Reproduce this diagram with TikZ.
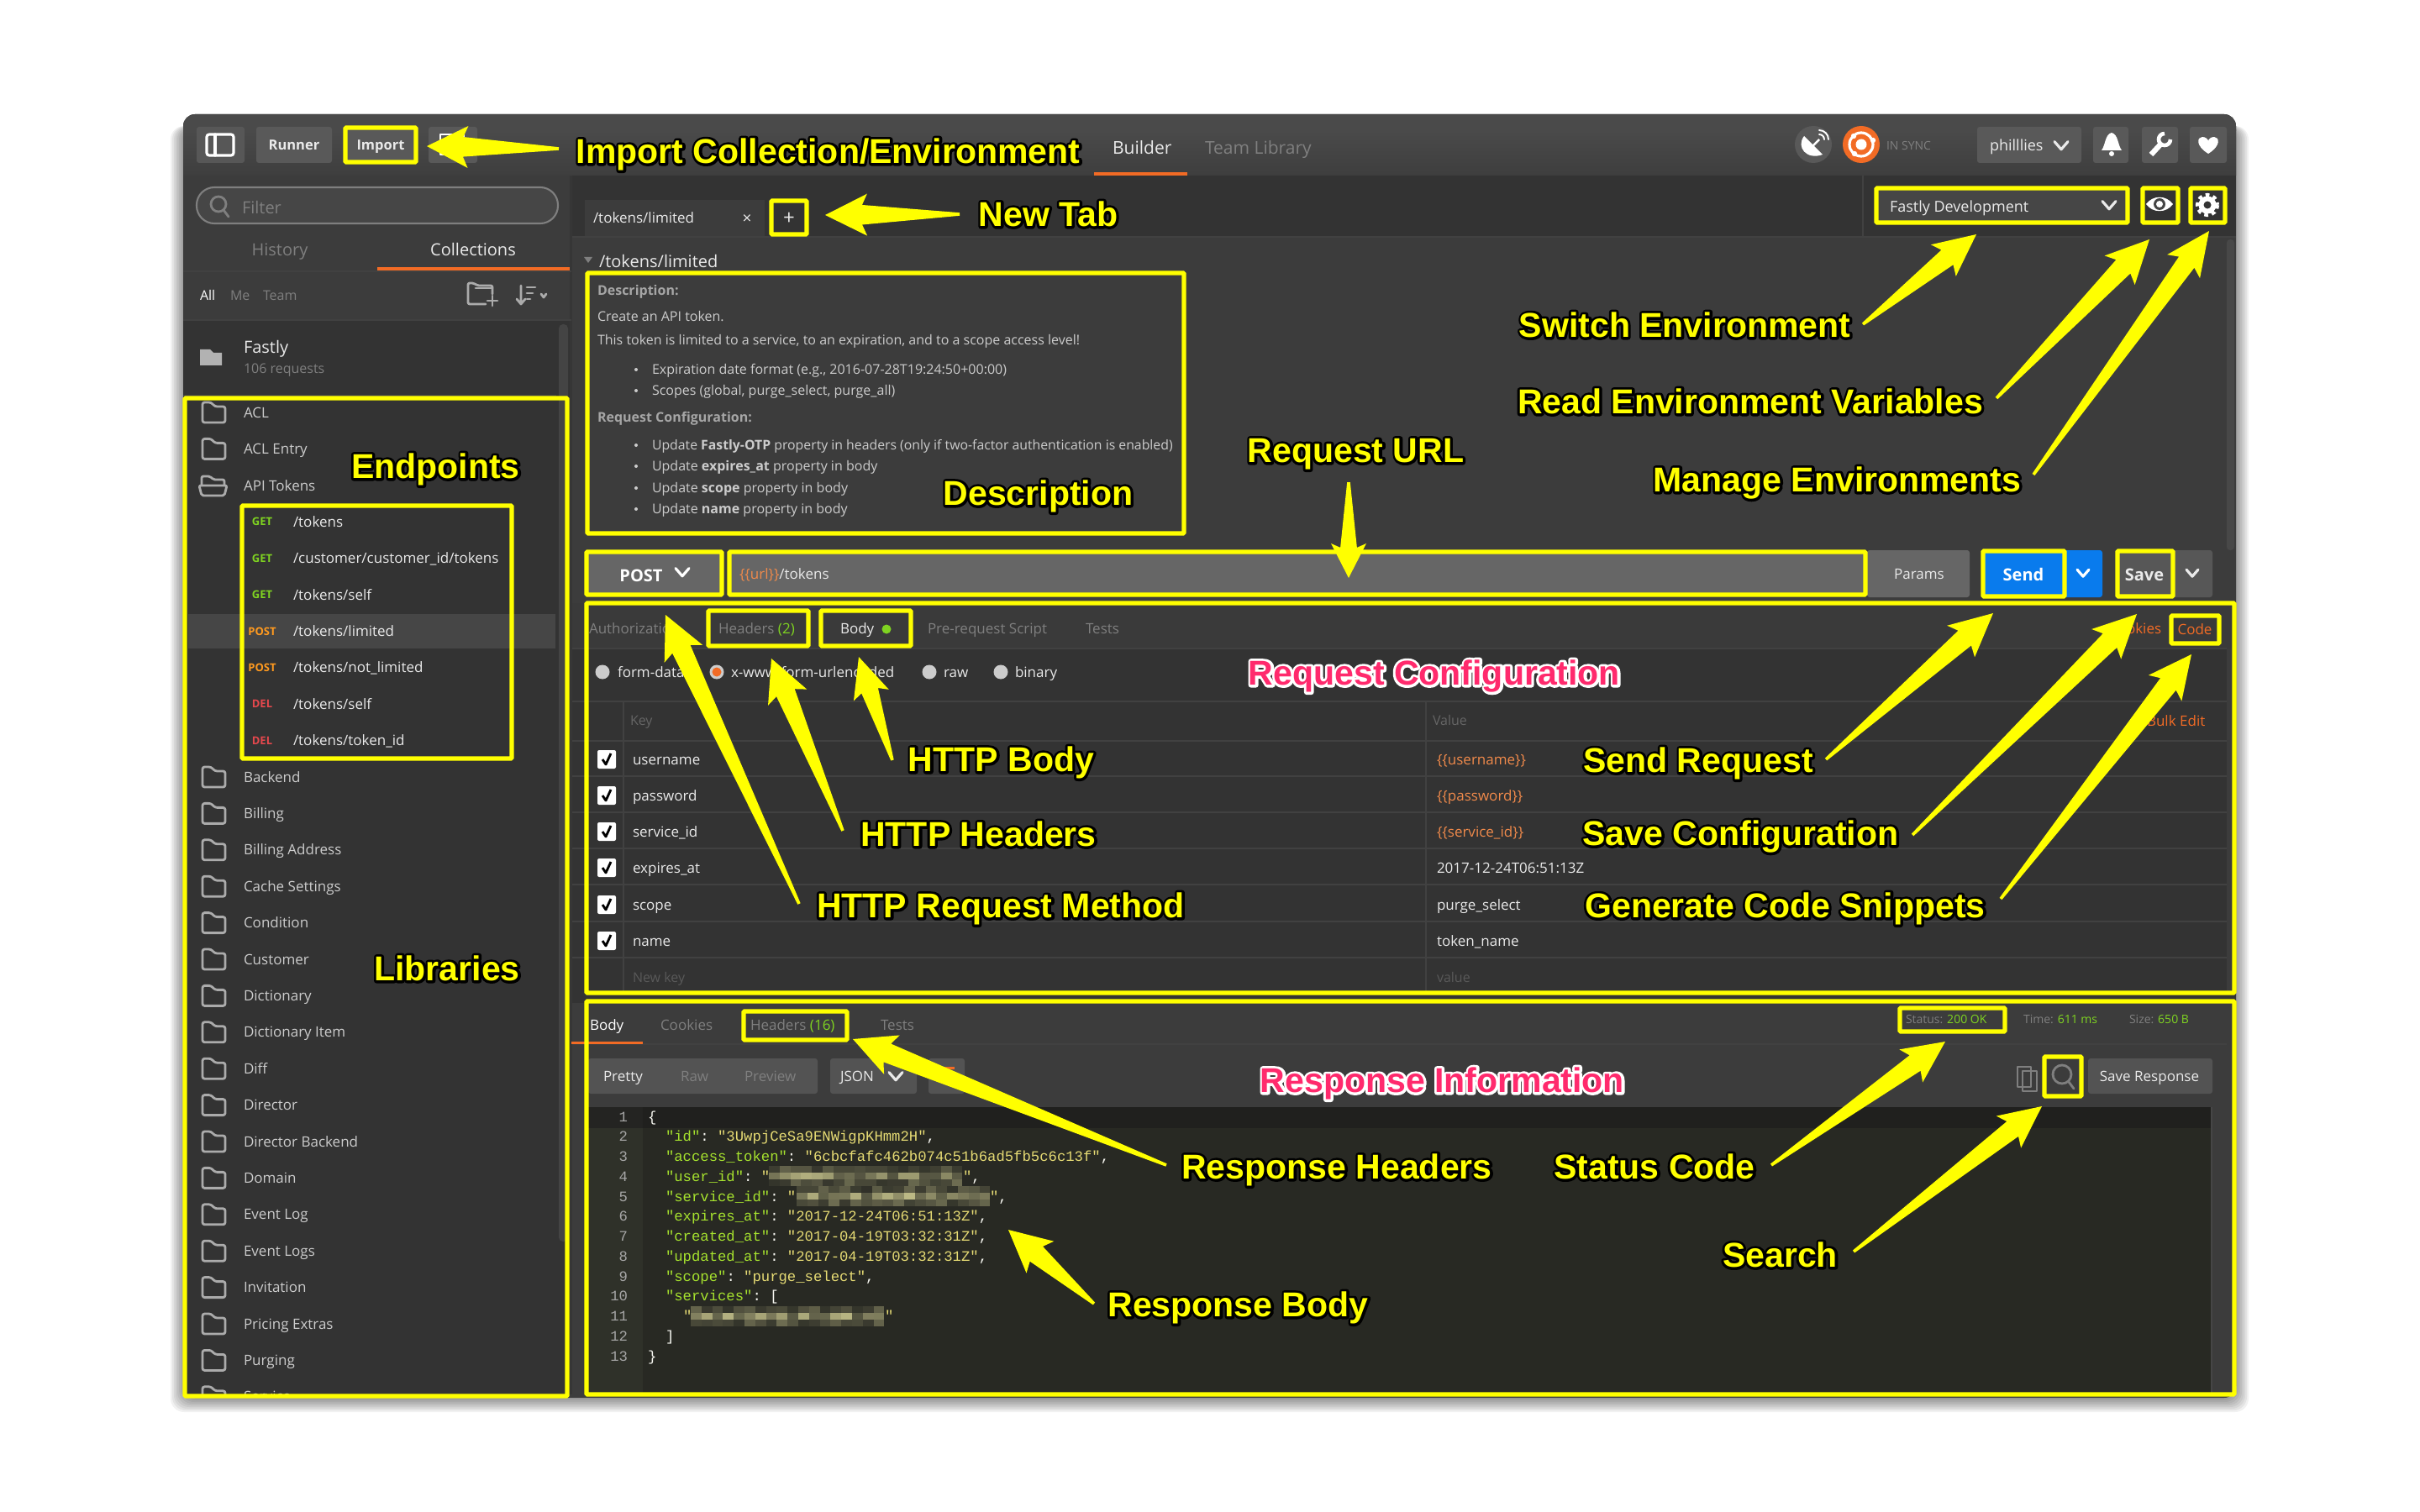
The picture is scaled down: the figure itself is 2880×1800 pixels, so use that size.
\documentclass[tikz,border=0pt]{standalone}
\usepackage{fontspec}
\usepackage{xcolor}
\usetikzlibrary{calc}
\setmainfont{Open Sans}
\setmonofont{Liberation Mono}
\newfontface\annofill{Liberation Sans Bold}
\newfontface\annostroke{Liberation Sans Bold}[FakeBold=15]
\newcommand{\fs}[1]{\fontsize{\fpeval{#1*0.2845}pt}{\fpeval{#1*0.34}pt}\selectfont}
\def\sl{/}
\definecolor{yy}{HTML}{FFFF00}
\definecolor{win}{HTML}{3C3C3C}
\definecolor{dk}{HTML}{333333}
\definecolor{ln}{HTML}{414141}
\definecolor{btn}{HTML}{595959}
\definecolor{inp}{HTML}{666666}
\definecolor{wt}{HTML}{EAEAEA}
\definecolor{gr}{HTML}{7F7F7F}
\definecolor{org}{HTML}{F26B25}
\definecolor{grn}{HTML}{7FD321}
\definecolor{red1}{HTML}{E5484D}
\definecolor{ora}{HTML}{FF9A1F}
\definecolor{var}{HTML}{F08A4B}
\definecolor{pk}{HTML}{FF2A6D}
\definecolor{edbg}{HTML}{282923}
\definecolor{gut}{HTML}{2F3129}
\definecolor{kw}{HTML}{A6E22E}
\definecolor{st}{HTML}{E6DB74}
\definecolor{pn}{HTML}{F8F8F2}
\definecolor{blr}{HTML}{D8D498}
\definecolor{ca}{HTML}{4A4A4A}
\definecolor{cb}{HTML}{3E3E3E}
\definecolor{cc}{HTML}{464646}
\definecolor{cd}{HTML}{444444}
\definecolor{ce}{HTML}{484848}
\definecolor{cf}{HTML}{3A3A3A}
\definecolor{blu}{HTML}{097BED}
\definecolor{cg}{HTML}{20201E}
\definecolor{ch}{HTML}{242422}
\definecolor{fo}{HTML}{ABABAB}
\tikzset{
  x=0.01cm,y=-0.01cm,
  yb/.style={draw=yy,line width=1.45pt,rounded corners=0.01cm},
  dv/.style={draw=ln,line width=0.6pt},
  ic/.style={draw=#1,line width=0.8pt,line join=round,line cap=round},
  lb/.style={inner sep=0pt,outer sep=0pt},
}
\newcount\nc
\newcommand{\T}[5]{\global\advance\nc by 1\relax
  \node[lb,anchor=base west,text=#4,name=t\the\nc] at ({#1},{#2+0.36*#3}) {\fs{#3}#5};}
\newcommand{\TC}[5]{\global\advance\nc by 1\relax
  \node[lb,anchor=base,text=#4,name=t\the\nc] at ({#1},{#2+0.36*#3}) {\fs{#3}#5};}
\newcommand{\chev}[4]{\draw[ic=#4,line width=0.9pt] ({#1-#3},{#2-0.55*#3}) -- ({#1},{#2+0.6*#3}) -- ({#1+#3},{#2-0.55*#3});}
\newcommand{\anno}[7]{% name, left, right, y, text, fill, stroke
  \node[lb,anchor=base,name=#1,line join=round,miter limit=1] at ({(#2+#3)/2},{#4+14.5}) {\fs{41}\special{pdf:code 1 j 1 J}\rlap{\annostroke\textcolor{#7}{#5}}\annofill\textcolor{#6}{#5}};}
\newcommand{\yarrow}[4]{%
  \coordinate (B) at ($(#2)!#3*0.01cm!(#1)$);
  \coordinate (N) at ($(#2)!#3*0.0088cm!(#1)$);
  \fill[yy] ($(#1)!0.018cm!90:(#2)$) -- ($(N)!#4*0.0047cm!90:(#2)$) -- ($(B)!#4*0.01cm!90:(#2)$) -- (#2)
    -- ($(B)!#4*0.01cm!-90:(#2)$) -- ($(N)!#4*0.0047cm!-90:(#2)$) -- ($(#1)!0.018cm!-90:(#2)$) -- cycle;}
\begin{document}
\begin{tikzpicture}
\useasboundingbox (0,0) rectangle (2880,1800);
\fill[white] (0,0) rectangle (2880,1800);
% soft shadow
\foreach \e in {1,3,...,15}{
  \fill[black,opacity=0.055,rounded corners=0.16cm] ({218-\e},{150}) rectangle ({2661+\e},{1664+\e+2});
}
% window
\fill[win,rounded corners=0.14cm] (218,136) rectangle (2661,1664);
\fill[ca,rounded corners=0.14cm] (218,136) rectangle (2661,170);
\shade[top color=ca,bottom color=cb] (218,155) rectangle (2661,209);
% title bar buttons
\fill[inp!110!white,rounded corners=0.03cm] (234,151) rectangle (291,194);
\draw[ic=white,rounded corners=0.03cm,line width=0.9pt] (246,160) rectangle (278,185);
\draw[ic=white,line width=0.9pt] (256,160) -- (256,185);
\fill[btn,rounded corners=0.03cm] (305,151) rectangle (395,194);
\TC{350}{173}{16.5}{wt}{\bfseries Runner}
\fill[btn,rounded corners=0.03cm] (411,151) rectangle (495,194);
\TC{453}{173}{16.5}{wt}{\bfseries Import}
\fill[btn,rounded corners=0.03cm] (510,151) rectangle (568,194);
\draw[ic=white] (524,160) rectangle (552,184);
\T{1324}{176}{21}{wt}{Builder}
\fill[org] (1302,205) rectangle (1413,209);
\T{1434}{176}{21}{gr}{Team Library}
\fill[btn] (2158,172) circle [radius=22];
\fill[white] (2147,162) .. controls (2137,175) and (2150,191) .. (2169,184) -- cycle;
\draw[white,line width=0.7pt] (2156,175) -- (2165,166);
\draw[ic=white,line width=0.55pt] (2165,160) arc (-90:0:6);
\draw[ic=white,line width=0.55pt] (2165,155) arc (-90:0:11);
\fill[org] (2215,172) circle [radius=22];
\draw[white,line width=0.9pt] (2215,172) circle [radius=14];
\fill[white] (2215,172) circle [radius=6.5];
\fill[white] (2229,167) circle [radius=3.2];
\fill[white] (2207,183) circle [radius=3.2];
\fill[white] (2206,162) circle [radius=3.2];
\T{2245}{173}{14}{gr}{IN SYNC}
\fill[btn,rounded corners=0.03cm] (2353,151) rectangle (2477,194);
\T{2368}{173}{18}{wt}{philllies}
\chev{2453}{173}{8}{wt}
\fill[btn,rounded corners=0.03cm] (2491,151) rectangle (2533,194);
\fill[white] (2513,158) .. controls (2505,160) and (2506,172) .. (2501,179) -- (2525,179) .. controls (2520,172) and (2521,160) .. (2513,158) -- cycle;
\fill[white] (2513,183) circle [radius=3];
\fill[btn,rounded corners=0.03cm] (2549,151) rectangle (2592,194);
\draw[white,line width=1.8pt] (2560,184) -- (2572,171);
\draw[white,line width=1.3pt] (2583,166) arc (0:270:7);
\fill[btn,rounded corners=0.03cm] (2606,151) rectangle (2650,194);
\fill[white] (2628,183) .. controls (2612,173) and (2615,163) .. (2621,163) .. controls (2625,163) and (2628,166) .. (2628,168) .. controls (2628,166) and (2631,163) .. (2635,163) .. controls (2641,163) and (2644,173) .. (2628,183) -- cycle;
% sidebar
\fill[win] (218,209) rectangle (680,382);
\fill[dk] (218,382) rectangle (680,1660);
\fill[win!90!black] (678,209) rectangle (681,1660);
\fill[cc,rounded corners=0.21cm,draw=gr,line width=0.6pt] (234,223) rectangle (664,266);
\draw[ic=gr] (260,243) circle [radius=9];
\draw[ic=gr] (266,250) -- (272,258);
\T{288}{247}{20}{gr}{Filter}
\TC{333}{297}{20}{gr}{History}
\TC{563}{297}{20}{wt}{Collections}
\fill[org] (449,318) rectangle (678,322);
\draw[dv] (218,323) -- (680,323);
\T{238}{352}{16}{white}{All}
\T{274}{352}{16}{gr}{Me}
\T{313}{352}{16}{gr}{Team}
\draw[ic=fo,rounded corners=0.02cm] (586,350) -- (586,340) -- (568,340) -- (564,337) -- (557,337) -- (557,362) -- (578,362);
\draw[ic=fo] (566,343) -- (586,343);
\draw[ic=fo] (586,352) -- (586,364) (580,358) -- (592,358);
\draw[ic=fo] (620,340) -- (620,362) (615,356) -- (620,362) -- (625,356);
\draw[ic=fo] (627,342) -- (637,342) (627,349) -- (634,349) (627,356) -- (631,356);
\draw[ic=fo] (644,350) -- (647,354) -- (650,350);
\draw[dv] (218,381) -- (680,381);
\fill[gray!60!white] (238,416) -- (250,416) -- (254,420) -- (264,420) -- (264,435) -- (238,435) -- cycle;
\T{290}{413}{20}{wt}{Fastly}
\T{290}{439}{16}{gr}{106 requests}
\draw[dv] (218,471) -- (662,471);
\fill[cd,rounded corners=0.05cm] (665,386) rectangle (676,1478);
\fill[cc] (224,731) rectangle (661,772);
\begin{scope}
\clip (218,472) rectangle (680,1660);
\foreach \i/\t in {0/ACL,1/ACL Entry,11/Backend,12/Billing,13/Billing Address,14/Cache Settings,15/Condition,16/Customer,17/Dictionary,18/Dictionary Item,19/Diff,20/Director,21/Director Backend,22/Domain,23/Event Log,24/Event Logs,25/Invitation,26/Pricing Extras,27/Purging,28/Service}{
  \pgfmathsetmacro\fy{491+43.4*(\i<3?\i:\i-1)}
  \T{290}{\fy}{17}{gray!40!white}{\t}
  \draw[ic=fo,rounded corners=0.025cm] (241,{\fy+12}) -- (241,{\fy-12}) -- (251,{\fy-12}) -- (256,{\fy-7}) -- (268,{\fy-7}) -- (268,{\fy+12}) -- cycle;
}
\T{290}{578}{17}{gray!40!white}{API Tokens}
\draw[ic=fo,rounded corners=0.02cm] (240,578) -- (240,567) -- (250,567) -- (254,571) -- (267,571) -- (267,578);
\draw[ic=fo,rounded corners=0.02cm] (237,578) -- (270,578) -- (267,590) -- (240,590) -- cycle;
\end{scope}
\foreach \i/\m/\c/\p in {3/GET/grn/\sl tokens,4/GET/grn/\sl customer\sl customer\_id\sl tokens,5/GET/grn/\sl tokens\sl self,6/POST/ora/\sl tokens\sl limited,7/POST/ora/\sl tokens\sl not\_limited,8/DEL/red1/\sl tokens\sl self,9/DEL/red1/\sl tokens\sl token\_id}{
  \pgfmathsetmacro\fy{491+43.4*\i}
  \TC{312}{\fy}{13}{\c}{\bfseries \m}
  \T{349}{\fy}{17}{wt}{\p}
}
% tab bar
\fill[dk] (681,209) rectangle (2661,281);
\draw[dv] (2217,209) -- (2217,281);
\fill[win] (696,238) rectangle (910,282);
\draw[dv] (681,282) -- (2661,282);
\T{706}{259}{17}{wt}{/tokens/limited}
\TC{889}{260}{19}{wt}{×}
\TC{939}{259}{24}{wt}{+}
\fill[cc] (2233,224) rectangle (2532,265);
\T{2249}{246}{18}{wt}{Fastly Development}
\chev{2510}{244}{8}{wt}
\fill[white] (2554,243) .. controls (2562,232) and (2578,232) .. (2586,243) .. controls (2578,254) and (2562,254) .. (2554,243) -- cycle;
\fill[cd] (2570,243) circle [radius=7];
\fill[white] (2570,243) circle [radius=4];
\draw[white,line width=1.5pt,dash pattern=on 1.25pt off 1.2pt] (2627,244) circle [radius=11.5];
\draw[white,line width=1.7pt] (2627,244) circle [radius=7.5];
% heading and description
\fill[gr] (695,306) -- (705,306) -- (700,313) -- cycle;
\T{713}{311}{20}{wt}{/tokens/limited}
\T{711}{346}{16}{gray!70!white}{\bfseries Description:}
\T{711}{377}{16}{gray!40!white}{Create an API token.}
\T{711}{405}{16}{gray!40!white}{This token is limited to a service, to an expiration, and to a scope access level!}
\T{776}{440}{16}{gray!40!white}{Expiration date format (e.g., 2016-07-28T19:24:50+00:00)}
\T{776}{465}{16}{gray!40!white}{Scopes (global, purge\_select, purge\_all)}
\T{711}{497}{16}{gray!70!white}{\bfseries Request Configuration:}
\T{776}{530}{15.8}{gray!40!white}{Update \textbf{Fastly-OTP} property in headers (only if two-factor authentication is enabled)}
\T{776}{555}{16}{gray!40!white}{Update \textbf{expires\_at} property in body}
\T{776}{581}{16}{gray!40!white}{Update \textbf{scope} property in body}
\T{776}{606}{16}{gray!40!white}{Update \textbf{name} property in body}
\foreach \y in {440,465,530,555,581,606}{\fill[gray!40!white] (757,\y) circle [radius=2];}
% scrollbar right
\fill[ce,rounded corners=0.04cm] (2650,285) rectangle (2659,655);
% URL row
\fill[inp] (698,656) rectangle (859,708);
\TC{763}{685}{20}{white}{\bfseries POST}
\chev{812}{681}{8}{white}
\fill[inp] (868,656) rectangle (2220,708);
\T{880}{683}{17}{wt}{\textcolor{var}{\{\{url\}\}}/tokens}
\fill[inp,rounded corners=0.03cm] (2222,655) rectangle (2344,711);
\TC{2284}{683}{17}{wt}{Params}
\fill[blu,rounded corners=0.03cm] (2359,655) rectangle (2502,711);
\TC{2408}{684}{20}{white}{\bfseries Send}
\chev{2479}{682}{7}{white}
\fill[inp!85!black,rounded corners=0.03cm] (2519,655) rectangle (2633,711);
\TC{2552}{684}{20}{wt}{\bfseries Save}
\chev{2609}{682}{7}{wt}
% request configuration
\fill[cf] (681,718) rectangle (2660,772);
\fill[dk] (681,772) rectangle (2650,1190);
\T{701}{748}{17}{gr}{Authorization}
\T{855}{748}{17}{gr}{Headers \textcolor{grn}{(2)}}
\T{1000}{748}{17}{wt}{Body}
\fill[grn] (1055,749) circle [radius=5.5];
\T{1104}{748}{17}{gr}{Pre-request Script}
\T{1292}{748}{17}{gr}{Tests}
\T{2510}{748}{17}{org}{Cookies}
\TC{2612}{749}{17}{org}{Code}
\draw[dv] (681,772) -- (2650,772);
\foreach \cx/\lx/\t/\cc in {717/735/form-data/gray!40!white,853/870/x-www-form-urlencoded/org,1106/1123/raw/gray!40!white,1191/1208/binary/gray!40!white}{
  \fill[gray!40!white] (\cx,800) circle [radius=8.5];
  \fill[\cc] (\cx,800) circle [radius=5.5];
  \T{\lx}{800}{17}{wt}{\t}
}
\draw[dv] (681,835) -- (2650,835);
\T{750}{858}{16}{gr!80!black}{Key}
\T{1705}{858}{16}{gr!80!black}{Value}
\T{2555}{858}{17}{org}{Bulk Edit}
\foreach \y in {882,924,967,1010,1053,1097,1140}{\draw[dv] (681,\y) -- (2650,\y);}
\draw[dv] (742,835) -- (742,1182);
\draw[dv] (1697,835) -- (1697,1182);
\foreach \y/\k/\v in {904/username/\textcolor{var}{\{\{username\}\}},947/password/\textcolor{var}{\{\{password\}\}},990/service\_id/\textcolor{var}{\{\{service\_id\}\}},1033/expires\_at/2017-12-24T06:51:13Z,1077/scope/purge\_select,1120/name/token\_name}{
  \fill[white,rounded corners=0.02cm] (711,{\y-11}) rectangle (733,{\y+11});
  \draw[black,line width=0.8pt,line join=round] (717,\y) -- (721,{\y+6}) -- (727,{\y-7});
  \T{753}{\y}{17}{wt}{\k}
  \T{1710}{\y}{17}{wt}{\v}
}
\T{753}{1164}{16}{gr!70!black}{New key}
\T{1710}{1164}{16}{gr!70!black}{value}
% response
\fill[dk] (681,1184) rectangle (2661,1194);
\fill[win] (681,1194) rectangle (2661,1318);
\draw[dv] (681,1243) -- (2650,1243);
\T{702}{1220}{17}{white}{Body}
\fill[org] (680,1240) rectangle (765,1243);
\T{786}{1220}{17}{gr}{Cookies}
\T{893}{1220}{17}{gr}{Headers \textcolor{grn}{(16)}}
\T{1048}{1220}{17}{gr}{Tests}
\T{2268}{1213}{14}{gr}{Status: \textcolor{grn}{200 OK}}
\T{2408}{1213}{14}{gr}{Time: \textcolor{grn}{611 ms}}
\T{2534}{1213}{14}{gr}{Size: \textcolor{grn}{650 B}}
\fill[btn!80!win,rounded corners=0.03cm] (700,1260) rectangle (973,1302);
\T{718}{1281}{17}{wt}{Pretty}
\T{810}{1281}{17}{gr}{Raw}
\T{886}{1281}{17}{gr}{Preview}
\fill[btn!80!win,rounded corners=0.03cm] (988,1260) rectangle (1091,1302);
\T{1000}{1281}{17}{wt}{JSON}
\chev{1066}{1281}{8}{wt}
\fill[btn!80!win,rounded corners=0.03cm] (1105,1260) rectangle (1148,1302);
\fill[org] (1117,1270) rectangle (1136,1273);
\draw[ic=gr] (2401,1270) rectangle (2417,1294);
\draw[ic=gr] (2407,1275) rectangle (2424,1299);
\draw[ic=gr] (2454,1279) circle [radius=11];
\draw[ic=gr] (2462,1288) -- (2468,1296);
\fill[btn!80!win,rounded corners=0.03cm] (2485,1260) rectangle (2633,1302);
\TC{2558}{1281}{17}{wt}{Save Response}
% editor
\fill[edbg] (700,1318) rectangle (2632,1660);
\fill[gut] (700,1318) rectangle (765,1660);
\fill[cg] (700,1318) rectangle (2632,1343);
\fill[ch] (700,1318) rectangle (765,1343);
\draw[cc,line width=0.5pt] (2632,1318) -- (2632,1660);
\foreach \n in {1,...,13}{
  \pgfmathsetmacro\ly{1329+23.75*(\n-1)}
  \global\advance\nc by 1\relax
  \node[lb,anchor=base east,text=gray!70!white,name=t\the\nc] at (747,{\ly+6}) {\ttfamily\fs{17.25}\n};
}
\newcommand{\CL}[3]{\global\advance\nc by 1\relax
  \node[lb,anchor=base west,text=pn,name=t\the\nc] at (#1,{1329+23.75*(#2-1)+6}) {\ttfamily\fs{17.25}#3};}
\newcommand{\K}[1]{\textcolor{kw}{"#1"}: }
\newcommand{\Sv}[1]{\textcolor{st}{"#1"},}
\CL{771}{1}{\{}
\CL{792}{2}{\K{id}\Sv{3UwpjCeSa9ENWigpKHmm2H}}
\CL{792}{3}{\K{access\_token}\Sv{6cbcfafc462b074c51b6ad5fb5c6c13f}}
\CL{792}{4}{\K{user\_id}\textcolor{st}{"}}
\CL{1146}{4}{\textcolor{st}{"},}
\CL{792}{5}{\K{service\_id}\textcolor{st}{"}}
\CL{1178}{5}{\textcolor{st}{"},}
\CL{792}{6}{\K{expires\_at}\Sv{2017-12-24T06:51:13Z}}
\CL{792}{7}{\K{created\_at}\Sv{2017-04-19T03:32:31Z}}
\CL{792}{8}{\K{updated\_at}\Sv{2017-04-19T03:32:31Z}}
\CL{792}{9}{\K{scope}\Sv{purge\_select}}
\CL{792}{10}{\K{services}[}
\CL{813}{11}{\textcolor{st}{"}}
\CL{1053}{11}{\textcolor{st}{"}}
\CL{792}{12}{]}
\CL{771}{13}{\}}
% pixelated redactions
\pgfmathsetseed{42}
\foreach \bx/\by in {915/1400.25,948/1424,822/1566.5}{
  \foreach \cx in {0,1,...,17}{
    \foreach \cy/\lo/\hi in {-1.5/5/35,-0.5/25/85,0.5/5/40}{
      \pgfmathtruncatemacro\pc{\lo+(\hi-\lo)*rnd}
      \fill[blr!\pc!edbg] ({\bx+\cx*12.8},{\by+\cy*8}) rectangle ({\bx+(\cx+1)*12.8},{\by+(\cy+1)*8});
    }
  }
}
% yellow highlight frames
\draw[yb] (411,152) rectangle (495,193);
\draw[yb] (918,239) rectangle (960,279);
\draw[yb] (2233,224) rectangle (2532,265);
\draw[yb] (2550,224) rectangle (2592,265);
\draw[yb] (2607,224) rectangle (2648,265);
\draw[yb] (699,325) rectangle (1409,635);
\draw[yb] (220,474) rectangle (675,1662);
\draw[yb] (288,602) rectangle (609,903);
\draw[yb] (698,657) rectangle (859,708);
\draw[yb] (868,657) rectangle (2220,708);
\draw[yb] (2360,656) rectangle (2457,710);
\draw[yb] (2520,656) rectangle (2586,710);
\draw[yb] (698,718) rectangle (2659,1182);
\draw[yb] (843,727) rectangle (962,769);
\draw[yb] (977,727) rectangle (1084,769);
\draw[yb] (2584,733) rectangle (2641,766);
\draw[yb] (698,1192) rectangle (2659,1660);
\draw[yb] (885,1204) rectangle (1008,1238);
\draw[yb] (2261,1200) rectangle (2386,1228);
\draw[yb] (2433,1258) rectangle (2477,1305);
% connector ends
\coordinate (tImport) at (665,177);   \coordinate (hImport) at (508,174);
\coordinate (tTab) at (1142,255);     \coordinate (hTab) at (982,256);
\coordinate (tSwitch) at (2217,386);  \coordinate (hSwitch) at (2352,279);
\coordinate (tRead) at (2376,474);    \coordinate (hRead) at (2558,285);
\coordinate (tManage) at (2420,565);  \coordinate (hManage) at (2629,275);
\coordinate (tUrl) at (1605,574);     \coordinate (hUrl) at (1605,688);
\coordinate (tMethod) at (951,1076);  \coordinate (hMethod) at (792,732);
\coordinate (tHead) at (1003,989);    \coordinate (hHead) at (918,784);
\coordinate (tBody) at (1062,905);    \coordinate (hBody) at (1022,782);
\coordinate (tSend) at (2173,904);    \coordinate (hSend) at (2372,730);
\coordinate (tSave) at (2276,994);    \coordinate (hSave) at (2543,731);
\coordinate (tCode) at (2381,1070);   \coordinate (hCode) at (2608,779);
\coordinate (tRH) at (1388,1387);     \coordinate (hRH) at (1015,1237);
\coordinate (tRB) at (1302,1552);     \coordinate (hRB) at (1200,1464);
\coordinate (tStat) at (2108,1387);   \coordinate (hStat) at (2315,1240);
\coordinate (tSearch) at (2206,1490); \coordinate (hSearch) at (2430,1317);
\yarrow{tImport}{hImport}{49}{25}
\yarrow{tTab}{hTab}{50}{25}
\yarrow{tSwitch}{hSwitch}{50}{24}
\yarrow{tRead}{hRead}{51}{25}
\yarrow{tManage}{hManage}{52}{24}
\yarrow{tUrl}{hUrl}{41}{21}
\yarrow{tMethod}{hMethod}{51}{25}
\yarrow{tHead}{hHead}{50}{25}
\yarrow{tBody}{hBody}{48}{22}
\yarrow{tSend}{hSend}{51}{25}
\yarrow{tSave}{hSave}{51}{25}
\yarrow{tCode}{hCode}{51}{25}
\yarrow{tRH}{hRH}{50}{25}
\yarrow{tRB}{hRB}{50}{25}
\yarrow{tStat}{hStat}{50}{24}
\yarrow{tSearch}{hSearch}{50}{24}
% annotations
\anno{aImport}{687}{1284}{180}{Import Collection/Environment}{yy}{black}
\anno{aTab}{1166}{1329}{255}{New Tab}{yy}{black}
\anno{aEnd}{420}{617}{555}{Endpoints}{yy}{black}
\anno{aDesc}{1124}{1347}{587}{Description}{yy}{black}
\anno{aSwitch}{1809}{2201}{387}{Switch Environment}{yy}{black}
\anno{aRead}{1808}{2358}{478}{Read Environment Variables}{yy}{black}
\anno{aManage}{1970}{2403}{571}{Manage Environments}{yy}{black}
\anno{aUrl}{1485}{1742}{536}{Request URL}{yy}{black}
\anno{aCfg}{1486}{1928}{801}{Request Configuration}{pk}{white}
\anno{aBody}{1082}{1301}{904}{HTTP Body}{yy}{black}
\anno{aHead}{1026}{1303}{993}{HTTP Headers}{yy}{black}
\anno{aMeth}{973}{1409}{1078}{HTTP Request Method}{yy}{black}
\anno{aSend}{1884}{2158}{905}{Send Request}{yy}{black}
\anno{aSave}{1885}{2258}{992}{Save Configuration}{yy}{black}
\anno{aCode}{1888}{2361}{1078}{Generate Code Snippets}{yy}{black}
\anno{aInfo}{1500}{1933}{1286}{Response Information}{pk}{white}
\anno{aRH}{1407}{1775}{1389}{Response Headers}{yy}{black}
\anno{aStat}{1850}{2088}{1389}{Status Code}{yy}{black}
\anno{aRB}{1320}{1627}{1553}{Response Body}{yy}{black}
\anno{aSearch}{2051}{2186}{1494}{Search}{yy}{black}
\anno{aLib}{445}{619}{1153}{Libraries}{yy}{black}
\end{tikzpicture}
\end{document}
